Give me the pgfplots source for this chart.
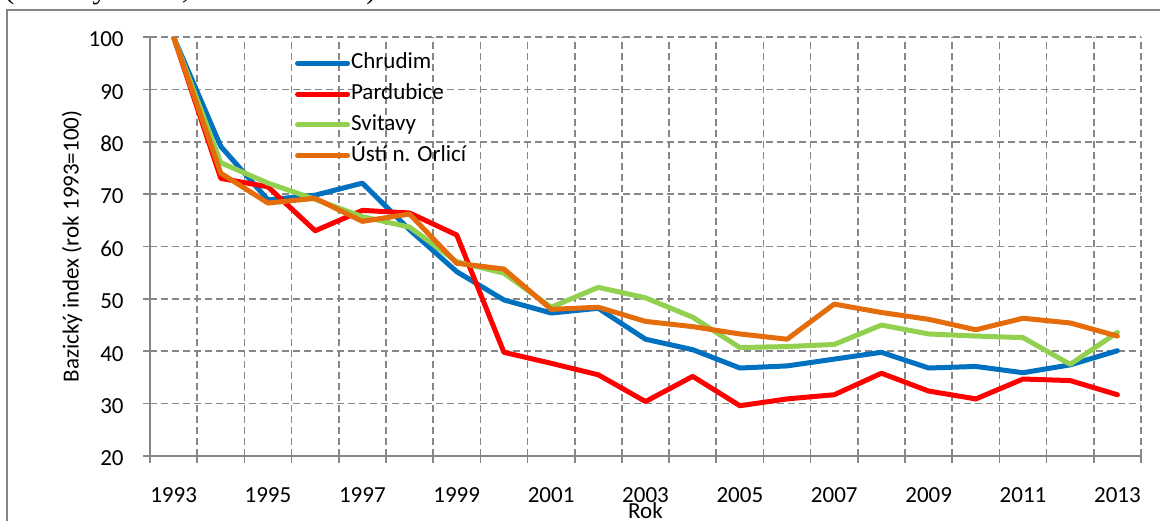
\documentclass[border=0pt]{standalone}
\usepackage{fontspec}
\setmainfont{Carlito}
\newfontfamily\seriffont{Liberation Serif}
\usepackage{pgfplots}
\pgfplotsset{compat=1.18}
\definecolor{cBlue}{HTML}{0070C0}
\definecolor{cRed}{HTML}{FF0000}
\definecolor{cGreen}{HTML}{92D050}
\definecolor{cOrange}{HTML}{E46C0A}
\definecolor{gridc}{HTML}{878787}
\definecolor{axc}{HTML}{868686}
\begin{document}
\begin{tikzpicture}
\useasboundingbox (0pt,0pt) rectangle (580pt,260pt);
\clip (0pt,0pt) rectangle (580pt,260pt);
\fill[white] (0pt,0pt) rectangle (580pt,260pt);
\draw[axc, line width=0.9pt] (3.5pt,-10pt) rectangle (590pt,255pt);
\node[anchor=base west, font=\seriffont\fontsize{15}{18}\selectfont, inner sep=0pt] at (2pt,260.75pt) {(bazický index, rok 1993=100)};
\begin{axis}[
  at={(75pt,32pt)}, anchor=south west,
  scale only axis, width=495.5pt, height=209.5pt,
  xmin=1992.5, xmax=2013.5, ymin=20, ymax=100,
  axis lines*=left,
  axis line style={axc, line width=0.8pt},
  xtick={1993,1995,...,2013},
  xticklabels={1993,1995,1997,1999,2001,2003,2005,2007,2009,2011,2013},
  minor xtick={1992.5,1993.5,...,2013.5},
  ytick={20,30,...,100},
  xminorgrids=true, ymajorgrids=true,
  major grid style={gridc, dash pattern=on 3.5pt off 2pt, line width=0.8pt},
  minor grid style={gridc, dash pattern=on 3.5pt off 2pt, line width=0.8pt},
  tick align=outside,
  major tick length=3.5pt, minor tick length=3.5pt,
  tick style={axc, line width=0.8pt},
  major x tick style={draw=none},
  /pgf/number format/assume math mode=true,
  tick label style={font=\fontsize{11.5}{13}\selectfont},
  xticklabel style={anchor=base, yshift=-19.5pt},
  yticklabel style={anchor=east, inner sep=0pt, xshift=-9.5pt, yshift=-1.2pt},
  label style={font=\fontsize{11.5}{13}\selectfont},
  ylabel={Bazický index (rok 1993=100)},
  ylabel style={at={(axis description cs:-0.0787,0.5)}, anchor=center},
  xlabel={Rok},
  xlabel style={at={(axis description cs:0.5,-0.1313)}, anchor=center},
  legend style={at={(0.146,0.975)}, anchor=north west, draw=none, fill=none,
    font=\fontsize{11.5}{13}\selectfont, row sep=0pt, column sep=0pt, inner sep=0pt,
    nodes={inner xsep=0.5pt, inner ysep=2.45pt, text height=8pt, text depth=2.5pt},
    column 2/.style={nodes={fill=white, inner xsep=0.3pt}},
    cells={anchor=west}},
  legend image code/.code={\draw[#1] (0pt,0pt) -- (25pt,0pt);},
  every axis plot/.append style={line width=2.5pt, line join=round, line cap=round},
]
\addplot[cBlue] coordinates {
(1993,100) (1994,79.1) (1995,68.9) (1996,69.8) (1997,72.1) (1998,63.2) (1999,55.2)
(2000,49.8) (2001,47.3) (2002,48.2) (2003,42.3) (2004,40.3) (2005,36.8) (2006,37.2)
(2007,38.5) (2008,39.8) (2009,36.8) (2010,37.1) (2011,35.9) (2012,37.4) (2013,40.1)};
\addlegendentry{Chrudim}
\addplot[cRed] coordinates {
(1993,100) (1994,73.0) (1995,71.4) (1996,63.0) (1997,66.9) (1998,66.4) (1999,62.2)
(2000,39.8) (2001,37.7) (2002,35.5) (2003,30.4) (2004,35.2) (2005,29.6) (2006,30.9)
(2007,31.7) (2008,35.8) (2009,32.4) (2010,30.9) (2011,34.7) (2012,34.4) (2013,31.7)};
\addlegendentry{Pardubice}
\addplot[cGreen] coordinates {
(1993,100) (1994,76.0) (1995,72.1) (1996,69.0) (1997,65.7) (1998,63.7) (1999,57.1)
(2000,54.9) (2001,48.4) (2002,52.2) (2003,50.2) (2004,46.5) (2005,40.7) (2006,40.9)
(2007,41.3) (2008,45.0) (2009,43.3) (2010,42.9) (2011,42.6) (2012,37.5) (2013,43.6)};
\addlegendentry{Svitavy}
\addplot[cOrange] coordinates {
(1993,100) (1994,74.0) (1995,68.3) (1996,69.2) (1997,64.8) (1998,66.2) (1999,56.8)
(2000,55.7) (2001,48.0) (2002,48.4) (2003,45.7) (2004,44.7) (2005,43.3) (2006,42.3)
(2007,49.0) (2008,47.4) (2009,46.1) (2010,44.1) (2011,46.3) (2012,45.4) (2013,42.9)};
\addlegendentry{Ústí n. Orlicí}
\end{axis}
\end{tikzpicture}
\end{document}
